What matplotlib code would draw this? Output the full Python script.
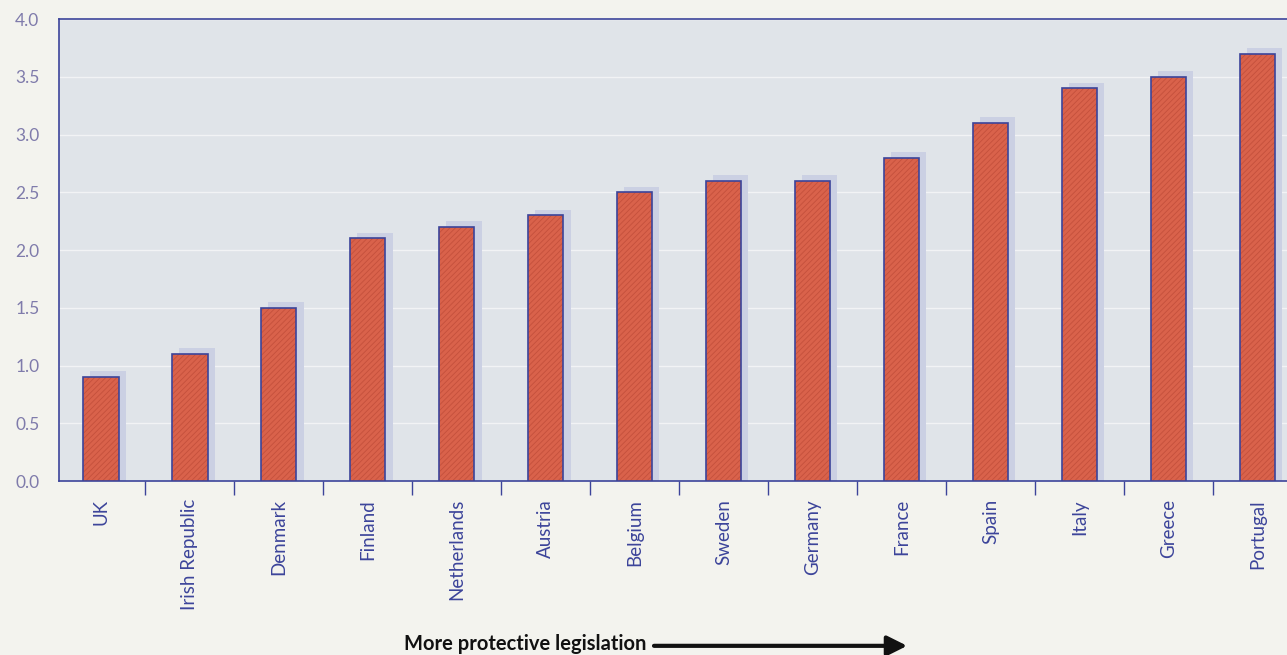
import matplotlib.pyplot as plt
import numpy as np

# Indice de proteccion del empleo por pais
paises = ["UK", "Irish Republic", "Denmark", "Finland", "Netherlands", "Austria",
          "Belgium", "Sweden", "Germany", "France", "Spain", "Italy", "Greece", "Portugal"]
valores = [0.9, 1.1, 1.5, 2.1, 2.2, 2.3, 2.5, 2.6, 2.6, 2.8, 3.1, 3.4, 3.5, 3.7]
marcas_y = [0.0, 0.5, 1.0, 1.5, 2.0, 2.5, 3.0, 3.5, 4.0]

azul = "#3c449a"
rojo = "#d9624b"
sombra = "#cbd0e3"
fondo_ejes = "#e0e4e9"
fondo_pagina = "#f3f3ee"

plt.rcParams['font.family'] = ['Lato', 'DejaVu Sans']
plt.rcParams['hatch.linewidth'] = 0.6

fig = plt.figure(figsize=(12.87, 6.55), dpi=100, facecolor=fondo_pagina)
ax = fig.add_axes([0.0458, 0.2656, 0.954, 0.7053])
ax.set_facecolor(fondo_ejes)

x = np.arange(len(paises))
ancho = 0.4

# sombra detras de cada barra
ax.bar(x + 0.08, np.array(valores) + 0.05, width=ancho, color=sombra, zorder=2)
# barras con rayado fino
ax.bar(x, valores, width=ancho, color=rojo, edgecolor="#c4503c", linewidth=0,
       hatch="//////", zorder=3)
ax.bar(x, valores, width=ancho, facecolor="none", edgecolor=azul, linewidth=1.2, zorder=4)

ax.set_xlim(-0.47, 13.33)
ax.set_ylim(0, 4.0)

ax.set_yticks(marcas_y)
ax.set_yticklabels([f"{v:.1f}" for v in marcas_y])
ax.yaxis.grid(True, color="#f2f3f5", linewidth=1.0)
ax.set_axisbelow(True)
ax.tick_params(axis="y", length=0, pad=14, labelsize=12.5, labelcolor="#7f7bab")

ax.set_xticks(x)
ax.set_xticklabels(paises, rotation=90, va="top", ha="center")
ax.set_xticks(np.arange(0.5, 13.5, 1.0), minor=True)
ax.tick_params(axis="x", which="major", length=0, pad=13, labelsize=13.5, labelcolor=azul)
ax.tick_params(axis="x", which="minor", length=10, width=1.0, color=azul, direction="out")

for lado in ["left", "top", "bottom"]:
    ax.spines[lado].set_color(azul)
    ax.spines[lado].set_linewidth(1.2)
ax.spines["right"].set_visible(False)

fig.text(0.314, 0.002, "More protective legislation", fontsize=14.5, fontweight="bold",
         color="#111111", ha="left", va="bottom")
fig.add_artist(plt.matplotlib.patches.FancyArrowPatch(
    (0.506, 0.014), (0.707, 0.014), transform=fig.transFigure,
    arrowstyle="-|>,head_length=12,head_width=6", color="#111111", linewidth=3.0))

fig.savefig("out.png", dpi=100, facecolor=fondo_pagina)
